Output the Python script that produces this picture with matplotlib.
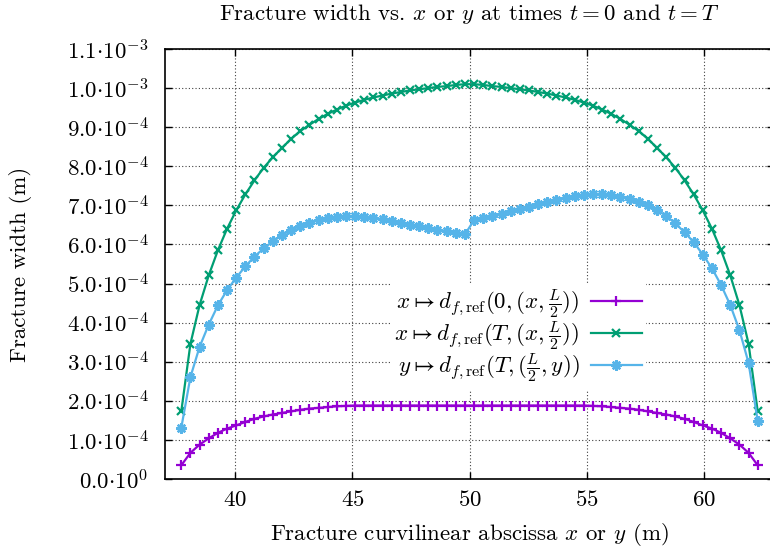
import numpy as np
import matplotlib
matplotlib.use("Agg")
import matplotlib.pyplot as plt
from matplotlib.ticker import FuncFormatter

plt.rcParams['font.family'] = 'serif'
plt.rcParams['font.serif'] = ['cmr10', 'DejaVu Serif']
plt.rcParams['mathtext.fontset'] = 'cm'
plt.rcParams['axes.formatter.use_mathtext'] = True

# fracture cells: 64 cells between 37.5 m and 62.5 m, values at cell centres
x_start = 37.5
x_end = 62.5
n_cells = 64
x = x_start + (np.arange(n_cells) + 0.5) * (x_end - x_start) / n_cells

# fracture widths, in units of 1e-4 m
width_t0_x = [0.35, 0.67, 0.88, 1.04, 1.18, 1.29, 1.37, 1.46, 1.54, 1.60, 1.65, 1.69, 1.73, 1.77, 1.80, 1.82,
              1.84, 1.86, 1.87, 1.88, 1.88, 1.88, 1.88, 1.88, 1.88, 1.88, 1.88, 1.88, 1.88, 1.88, 1.88, 1.88,
              1.88, 1.88, 1.88, 1.88, 1.88, 1.88, 1.88, 1.88, 1.88, 1.88, 1.88, 1.88, 1.88, 1.87, 1.86, 1.84,
              1.82, 1.80, 1.77, 1.73, 1.69, 1.65, 1.60, 1.54, 1.46, 1.37, 1.29, 1.18, 1.04, 0.88, 0.67, 0.35]

width_T_x = [1.73, 3.46, 4.45, 5.21, 5.85, 6.40, 6.87, 7.28, 7.64, 7.96, 8.23, 8.47, 8.70, 8.90, 9.06, 9.21,
             9.34, 9.45, 9.55, 9.63, 9.70, 9.76, 9.81, 9.86, 9.90, 9.94, 9.97, 10.00, 10.03, 10.05, 10.08, 10.10,
             10.10, 10.08, 10.05, 10.03, 10.00, 9.97, 9.94, 9.90, 9.86, 9.81, 9.76, 9.70, 9.63, 9.55, 9.45, 9.34,
             9.21, 9.06, 8.90, 8.70, 8.47, 8.23, 7.96, 7.64, 7.28, 6.87, 6.40, 5.85, 5.21, 4.45, 3.46, 1.73]

width_T_y = [1.31, 2.61, 3.38, 3.95, 4.44, 4.83, 5.15, 5.44, 5.69, 5.90, 6.08, 6.24, 6.37, 6.47, 6.55, 6.63,
             6.68, 6.70, 6.72, 6.72, 6.70, 6.68, 6.64, 6.60, 6.56, 6.51, 6.46, 6.42, 6.38, 6.34, 6.29, 6.26,
             6.62, 6.67, 6.73, 6.79, 6.85, 6.91, 6.97, 7.03, 7.09, 7.15, 7.20, 7.24, 7.26, 7.28, 7.28, 7.26,
             7.22, 7.17, 7.09, 7.00, 6.88, 6.73, 6.54, 6.31, 6.06, 5.74, 5.39, 4.96, 4.45, 3.81, 2.97, 1.48]

labels = [r'$x \mapsto d_{f,\mathrm{ref}}(0,(x,\frac{L}{2}))$',
          r'$x \mapsto d_{f,\mathrm{ref}}(T,(x,\frac{L}{2}))$',
          r'$y \mapsto d_{f,\mathrm{ref}}(T,(\frac{L}{2},y))$']

x_ticks = [40, 45, 50, 55, 60]
y_ticks = np.arange(0, 12) * 1e-4

fs = 16.5

fig = plt.figure(figsize=(7.7, 5.49), dpi=100)
ax = fig.add_axes([165 / 770, 70 / 549, 609 / 770, 430 / 549])

ax.plot(x, np.array(width_t0_x) * 1e-4, color='#9400D3', lw=1.6, marker='+', ms=7.5, mew=1.6, label=labels[0])
ax.plot(x, np.array(width_T_x) * 1e-4, color='#009E73', lw=1.6, marker='x', ms=6, mew=1.6, label=labels[1])
ax.plot(x, np.array(width_T_y) * 1e-4, color='#56B4E9', lw=1.6, marker=(8, 2, 0), ms=7.5, mew=1.7, label=labels[2])

ax.set_xlim(37, 63)
ax.set_ylim(0, 1.1e-3)
ax.set_xticks(x_ticks)
ax.set_yticks(y_ticks)


def sci_label(v, pos):
    mant, expo = ('%.1e' % v).split('e')
    return r'$%s{\cdot}10^{%d}$' % (mant, int(expo))


ax.yaxis.set_major_formatter(FuncFormatter(sci_label))
ax.tick_params(direction='in', length=5, width=1, top=True, right=True, labelsize=fs)
ax.tick_params(axis='x', pad=8)
ax.tick_params(axis='y', pad=12)
for s in ax.spines.values():
    s.set_linewidth(1.2)
ax.grid(True, linestyle=(0, (1, 2)), color='0.25', lw=0.8)

ax.set_title(r'Fracture width vs. $x$ or $y$ at times $t = 0$ and $t = T$', fontsize=fs, pad=21)
ax.set_xlabel(r'Fracture curvilinear abscissa $x$ or $y$ (m)', fontsize=fs, labelpad=8)
ax.set_ylabel('Fracture width (m)', fontsize=fs, labelpad=25)

leg = ax.legend(loc='upper right', bbox_to_anchor=(0.79, 0.455), markerfirst=False, fontsize=fs,
                handlelength=2.2, handletextpad=0.5, labelspacing=-0.05, borderpad=0.2, borderaxespad=0,
                fancybox=False, framealpha=1, edgecolor='none', facecolor='white')

plt.savefig('out.png', dpi=100)
